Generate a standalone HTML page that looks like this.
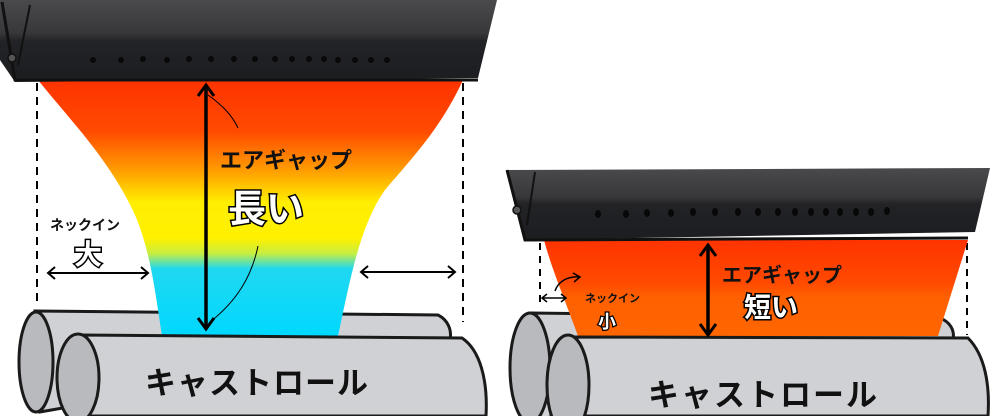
<!DOCTYPE html>
<html><head><meta charset="utf-8"><style>
html,body{margin:0;padding:0;background:#fff;width:1000px;height:416px;overflow:hidden}
text{font-family:"Liberation Sans","Noto Sans CJK JP",sans-serif;font-weight:bold}
</style></head><body>
<svg width="1000" height="416" viewBox="0 0 1000 416" xmlns="http://www.w3.org/2000/svg">
<defs>
<linearGradient id="die" x1="0" y1="0" x2="0" y2="1">
<stop offset="0" stop-color="#4a4a4c"/><stop offset="0.4" stop-color="#38383a"/><stop offset="0.5" stop-color="#222326"/><stop offset="1" stop-color="#1c1d20"/>
</linearGradient>
<linearGradient id="filmL" x1="0" y1="80" x2="0" y2="335" gradientUnits="userSpaceOnUse">
<stop offset="0" stop-color="#ff3300"/><stop offset="0.2" stop-color="#ff4a00"/><stop offset="0.36" stop-color="#ffa000"/><stop offset="0.48" stop-color="#ffee00"/><stop offset="0.62" stop-color="#fff000"/><stop offset="0.68" stop-color="#c8ee40"/><stop offset="0.74" stop-color="#20d8f0"/><stop offset="1" stop-color="#00d8ff"/>
</linearGradient>
<linearGradient id="filmR" x1="0" y1="240" x2="0" y2="335" gradientUnits="userSpaceOnUse">
<stop offset="0" stop-color="#ff3300"/><stop offset="0.45" stop-color="#ff4a00"/><stop offset="0.6" stop-color="#ff6000"/><stop offset="1" stop-color="#ff6600"/>
</linearGradient>
</defs>

<!-- LEFT -->
<line x1="37" y1="83" x2="37" y2="305" stroke="#000" stroke-width="2" stroke-dasharray="8,6"/>
<line x1="463" y1="83" x2="463" y2="322" stroke="#000" stroke-width="2" stroke-dasharray="8,6"/>
<!-- back roll left -->
<path d="M35,311 L438,315 C448,320 452,330 450,340 L40,412 Z" fill="#d0d1d5" stroke="#1a1a1a" stroke-width="3"/>
<ellipse cx="36" cy="362" rx="17" ry="50" fill="#b9babe" stroke="#1a1a1a" stroke-width="3"/>
<path d="M38,80 L463,80 C440,130 410,160 385,190 C360,225 350,280 338,336 L162,336 C155,290 150,250 135,215 C110,160 70,120 38,80 Z" fill="url(#filmL)"/>
<path d="M78,335 L462,338 C480,350 488,380 486,416 L70,416 Z" fill="#d0d1d5" stroke="#1a1a1a" stroke-width="3"/>
<ellipse cx="78" cy="378" rx="21" ry="44" fill="#b9babe" stroke="#1a1a1a" stroke-width="3"/>
<text x="145" y="394" font-size="31" fill="#111" letter-spacing="1">キャストロール</text>
<!-- die left -->
<path d="M0,0 L497,0 L478,78 L15,82 L0,60 Z" fill="url(#die)"/>
<path d="M2,2 L15,80 L478,80" fill="none" stroke="#111" stroke-width="3"/>
<line x1="30" y1="5" x2="18" y2="65" stroke="#111" stroke-width="2"/>
<circle cx="12" cy="58" r="4" fill="#555" stroke="#111" stroke-width="1.5"/>
<g fill="#080808">
<circle cx="93" cy="60" r="3"/><circle cx="121" cy="60" r="3"/><circle cx="143" cy="59" r="3"/><circle cx="167" cy="60" r="3"/><circle cx="189" cy="59" r="3"/><circle cx="211" cy="59" r="3"/><circle cx="234" cy="59" r="3"/><circle cx="255" cy="59" r="3"/><circle cx="275" cy="59" r="3"/><circle cx="292" cy="59" r="3"/><circle cx="309" cy="59" r="3"/><circle cx="324" cy="59" r="3"/><circle cx="338" cy="60" r="3"/><circle cx="355" cy="60" r="3"/><circle cx="371" cy="60" r="3"/><circle cx="387" cy="60" r="3"/>
</g>
<!-- annotations left -->
<line x1="206" y1="86" x2="206" y2="328" stroke="#000" stroke-width="3.5"/>
<path d="M198,96 L206,85 L214,96 M198,318 L206,329 L214,318" fill="none" stroke="#000" stroke-width="3"/>
<path d="M208,95 C222,105 232,115 238,128" fill="none" stroke="#000" stroke-width="1"/>
<path d="M258,246 C252,275 238,300 210,322" fill="none" stroke="#000" stroke-width="1"/>
<text x="220" y="168" font-size="22" fill="#111">エアギャップ</text>
<text x="228" y="222" font-size="38" fill="#fff" stroke="#000" stroke-width="3" paint-order="stroke">長い</text>
<text x="50" y="230" font-size="14" fill="#111">ネックイン</text>
<text x="74" y="264" font-size="28" fill="#fff" stroke="#000" stroke-width="3" paint-order="stroke">大</text>
<line x1="48" y1="273" x2="148" y2="273" stroke="#000" stroke-width="2"/>
<path d="M55,267 L48,273 L55,279 M141,267 L148,273 L141,279" fill="none" stroke="#000" stroke-width="2"/>
<line x1="361" y1="272" x2="455" y2="272" stroke="#000" stroke-width="2"/>
<path d="M368,266 L361,272 L368,278 M448,266 L455,272 L448,278" fill="none" stroke="#000" stroke-width="2"/>

<!-- RIGHT -->
<line x1="540" y1="243" x2="540" y2="305" stroke="#000" stroke-width="2" stroke-dasharray="7,6"/>
<line x1="967" y1="243" x2="967" y2="335" stroke="#000" stroke-width="2" stroke-dasharray="7,6"/>
<!-- back roll right -->
<path d="M530,313 L940,318 C950,322 955,330 953,340 L535,420 Z" fill="#d0d1d5" stroke="#1a1a1a" stroke-width="3"/>
<ellipse cx="530" cy="368" rx="20" ry="55" fill="#b9babe" stroke="#1a1a1a" stroke-width="3"/>
<path d="M544,240 L968,240 L938,336 L578,336 C565,300 552,270 544,240 Z" fill="url(#filmR)"/>
<path d="M568,337 L968,338 C985,355 990,385 988,416 L560,416 Z" fill="#d0d1d5" stroke="#1a1a1a" stroke-width="3"/>
<ellipse cx="568" cy="385" rx="21" ry="50" fill="#b9babe" stroke="#1a1a1a" stroke-width="3"/>
<text x="648" y="406" font-size="31" fill="#111" letter-spacing="2">キャストロール</text>
<!-- die right -->
<path d="M507,170 L990,168 L975,232 L525,240 Z" fill="url(#die)"/>
<path d="M507,170 L525,240 L968,238" fill="none" stroke="#111" stroke-width="3"/>
<line x1="535" y1="172" x2="527" y2="225" stroke="#111" stroke-width="2"/>
<circle cx="517" cy="210" r="4" fill="#555" stroke="#111" stroke-width="1.5"/>
<g fill="#080808">
<ellipse cx="598" cy="214" rx="3" ry="4"/><ellipse cx="626" cy="214" rx="3" ry="4"/><ellipse cx="647" cy="213" rx="3" ry="4"/><ellipse cx="671" cy="213" rx="3" ry="4"/><ellipse cx="693" cy="212" rx="3" ry="4"/><ellipse cx="715" cy="212" rx="3" ry="4"/><ellipse cx="738" cy="212" rx="3" ry="4"/><ellipse cx="758" cy="212" rx="3" ry="4"/><ellipse cx="778" cy="212" rx="3" ry="4"/><ellipse cx="795" cy="212" rx="3" ry="4"/><ellipse cx="811" cy="212" rx="3" ry="4"/><ellipse cx="826" cy="212" rx="3" ry="4"/><ellipse cx="840" cy="212" rx="3" ry="4"/><ellipse cx="856" cy="212" rx="3" ry="4"/><ellipse cx="871" cy="212" rx="3" ry="4"/><ellipse cx="887" cy="211" rx="3" ry="4"/>
</g>
<!-- annotations right -->
<line x1="708" y1="246" x2="708" y2="334" stroke="#000" stroke-width="3.5"/>
<path d="M700,256 L708,245 L716,256 M700,324 L708,335 L716,324" fill="none" stroke="#000" stroke-width="3"/>
<text x="722" y="282" font-size="20" fill="#111">エアギャップ</text>
<text x="744" y="317" font-size="27" fill="#fff" stroke="#000" stroke-width="3" paint-order="stroke">短い</text>
<text x="585" y="302" font-size="11" fill="#111">ネックイン</text>
<text x="598" y="328" font-size="18" fill="#fff" stroke="#000" stroke-width="2.5" paint-order="stroke">小</text>
<line x1="542" y1="298" x2="566" y2="298" stroke="#000" stroke-width="1.5"/>
<path d="M547,294 L542,298 L547,302 M561,294 L566,298 L561,302" fill="none" stroke="#000" stroke-width="1.5"/>
<path d="M555,291 C558,282 567,276 579,277" fill="none" stroke="#000" stroke-width="1.5"/>
<path d="M573,273 L580,277 L574,282" fill="none" stroke="#000" stroke-width="1.5"/>
</svg>
</body></html>
